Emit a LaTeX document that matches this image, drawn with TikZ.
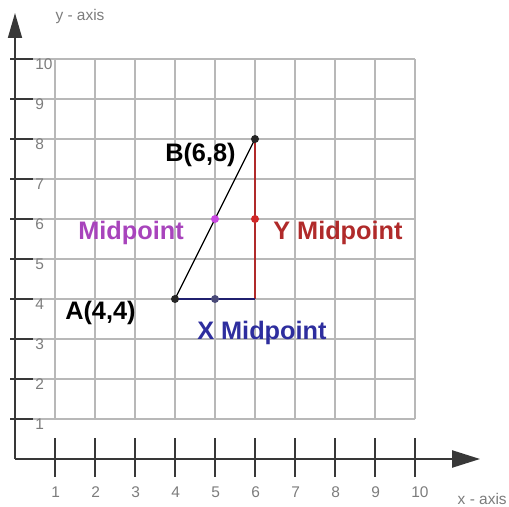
\documentclass[tikz,border=0pt]{standalone}
\usepackage{fontspec}
\setsansfont{Liberation Sans}
\usepackage{xcolor}
\usetikzlibrary{arrows.meta, positioning, calc}

\definecolor{gridgray}{HTML}{B8B8B8}
\definecolor{axisgray}{HTML}{383838}
\definecolor{numgray}{HTML}{7C7C7C}
\definecolor{midmag}{HTML}{A844BC}
\definecolor{middot}{HTML}{C848E0}
\definecolor{ymidred}{HTML}{B02A2A}
\definecolor{ymiddot}{HTML}{D02828}
\definecolor{xmidblue}{HTML}{2E2E9E}
\definecolor{xmiddot}{HTML}{4A4A78}

\begin{document}
\begin{tikzpicture}[
  gridline/.style={draw=gridgray, line width=1.1pt},
  tickline/.style={draw=axisgray, line width=1.1pt},
  axisline/.style={draw=axisgray, line width=1.2pt},
  num/.style={font=\sffamily\fontsize{11}{13}\selectfont, text=numgray,
              inner sep=0pt, anchor=west},
  axislabel/.style={font=\sffamily\fontsize{11}{13}\selectfont, text=numgray,
                    inner sep=0pt},
  dot/.style={circle, fill=#1, inner sep=0pt, minimum size=0.2cm},
  lbl/.style={font=\sffamily\bfseries\fontsize{18}{21}\selectfont,
              inner sep=0pt, anchor=base west}
]
  \useasboundingbox (-0.375,-1.2) rectangle (12.35,11.475);

  % grid
  \foreach \i in {1,...,10} {
    \draw[gridline] (0,\i) -- (10,\i);
    \draw[gridline] (\i,1) -- (\i,10);
    \draw[tickline] (-0.125,\i) -- (0.45,\i);
    \draw[tickline] (\i,-0.45) -- (\i,0.525);
    \node[num] (ny\i) at (0.5,\i-0.12) {\i};
    \node[num] (nx\i) at (\i-0.1,-0.825) {\i};
  }

  % axes
  \coordinate (O) at (0,0);
  \coordinate (ytip) at (0,11.15);
  \coordinate (xtip) at (11.625,0);
  \draw[axisline, -{Triangle[length=0.625cm,width=0.35cm]}] (O) -- (ytip);
  \draw[axisline, -{Triangle[length=0.7cm,width=0.43cm]}] (O) -- (xtip);
  \node[axislabel] (ylab) at (1.625,11.05) {y - axis};
  \node[axislabel, anchor=east] (xlab) at (12.3,-1.0) {x - axis};

  % points
  \coordinate (pA) at (4,4);
  \coordinate (pB) at (6,8);
  \coordinate (pC) at (6,4);
  \coordinate (pM) at (5,6);
  \coordinate (pMY) at (6,6);
  \coordinate (pMX) at (5,4);

  \draw[black, line width=0.8pt] (pA) -- (pB);
  \draw[ymidred, line width=0.9pt] (pC) -- (pB);
  \draw[xmidblue!70!black, line width=0.9pt] (pA) -- (pC);

  \node[dot=black!85] (A) at (pA) {};
  \node[dot=black!85] (B) at (pB) {};
  \node[dot=middot] (M) at (pM) {};
  \node[dot=ymiddot] (MY) at (pMY) {};
  \node[dot=xmiddot] (MX) at (pMX) {};

  % labels
  \node[lbl] (labB) at (3.75,7.43) {B(6,8)};
  \node[lbl] (labA) at (1.25,3.48) {A(4,4)};
  \node[lbl, text=midmag] (labM) at (1.575,5.48) {Midpoint};
  \node[lbl, text=ymidred] (labMY) at (6.45,5.48) {Y Midpoint};
  \node[lbl, text=xmidblue] (labMX) at (4.55,2.98) {X Midpoint};
\end{tikzpicture}
\end{document}
